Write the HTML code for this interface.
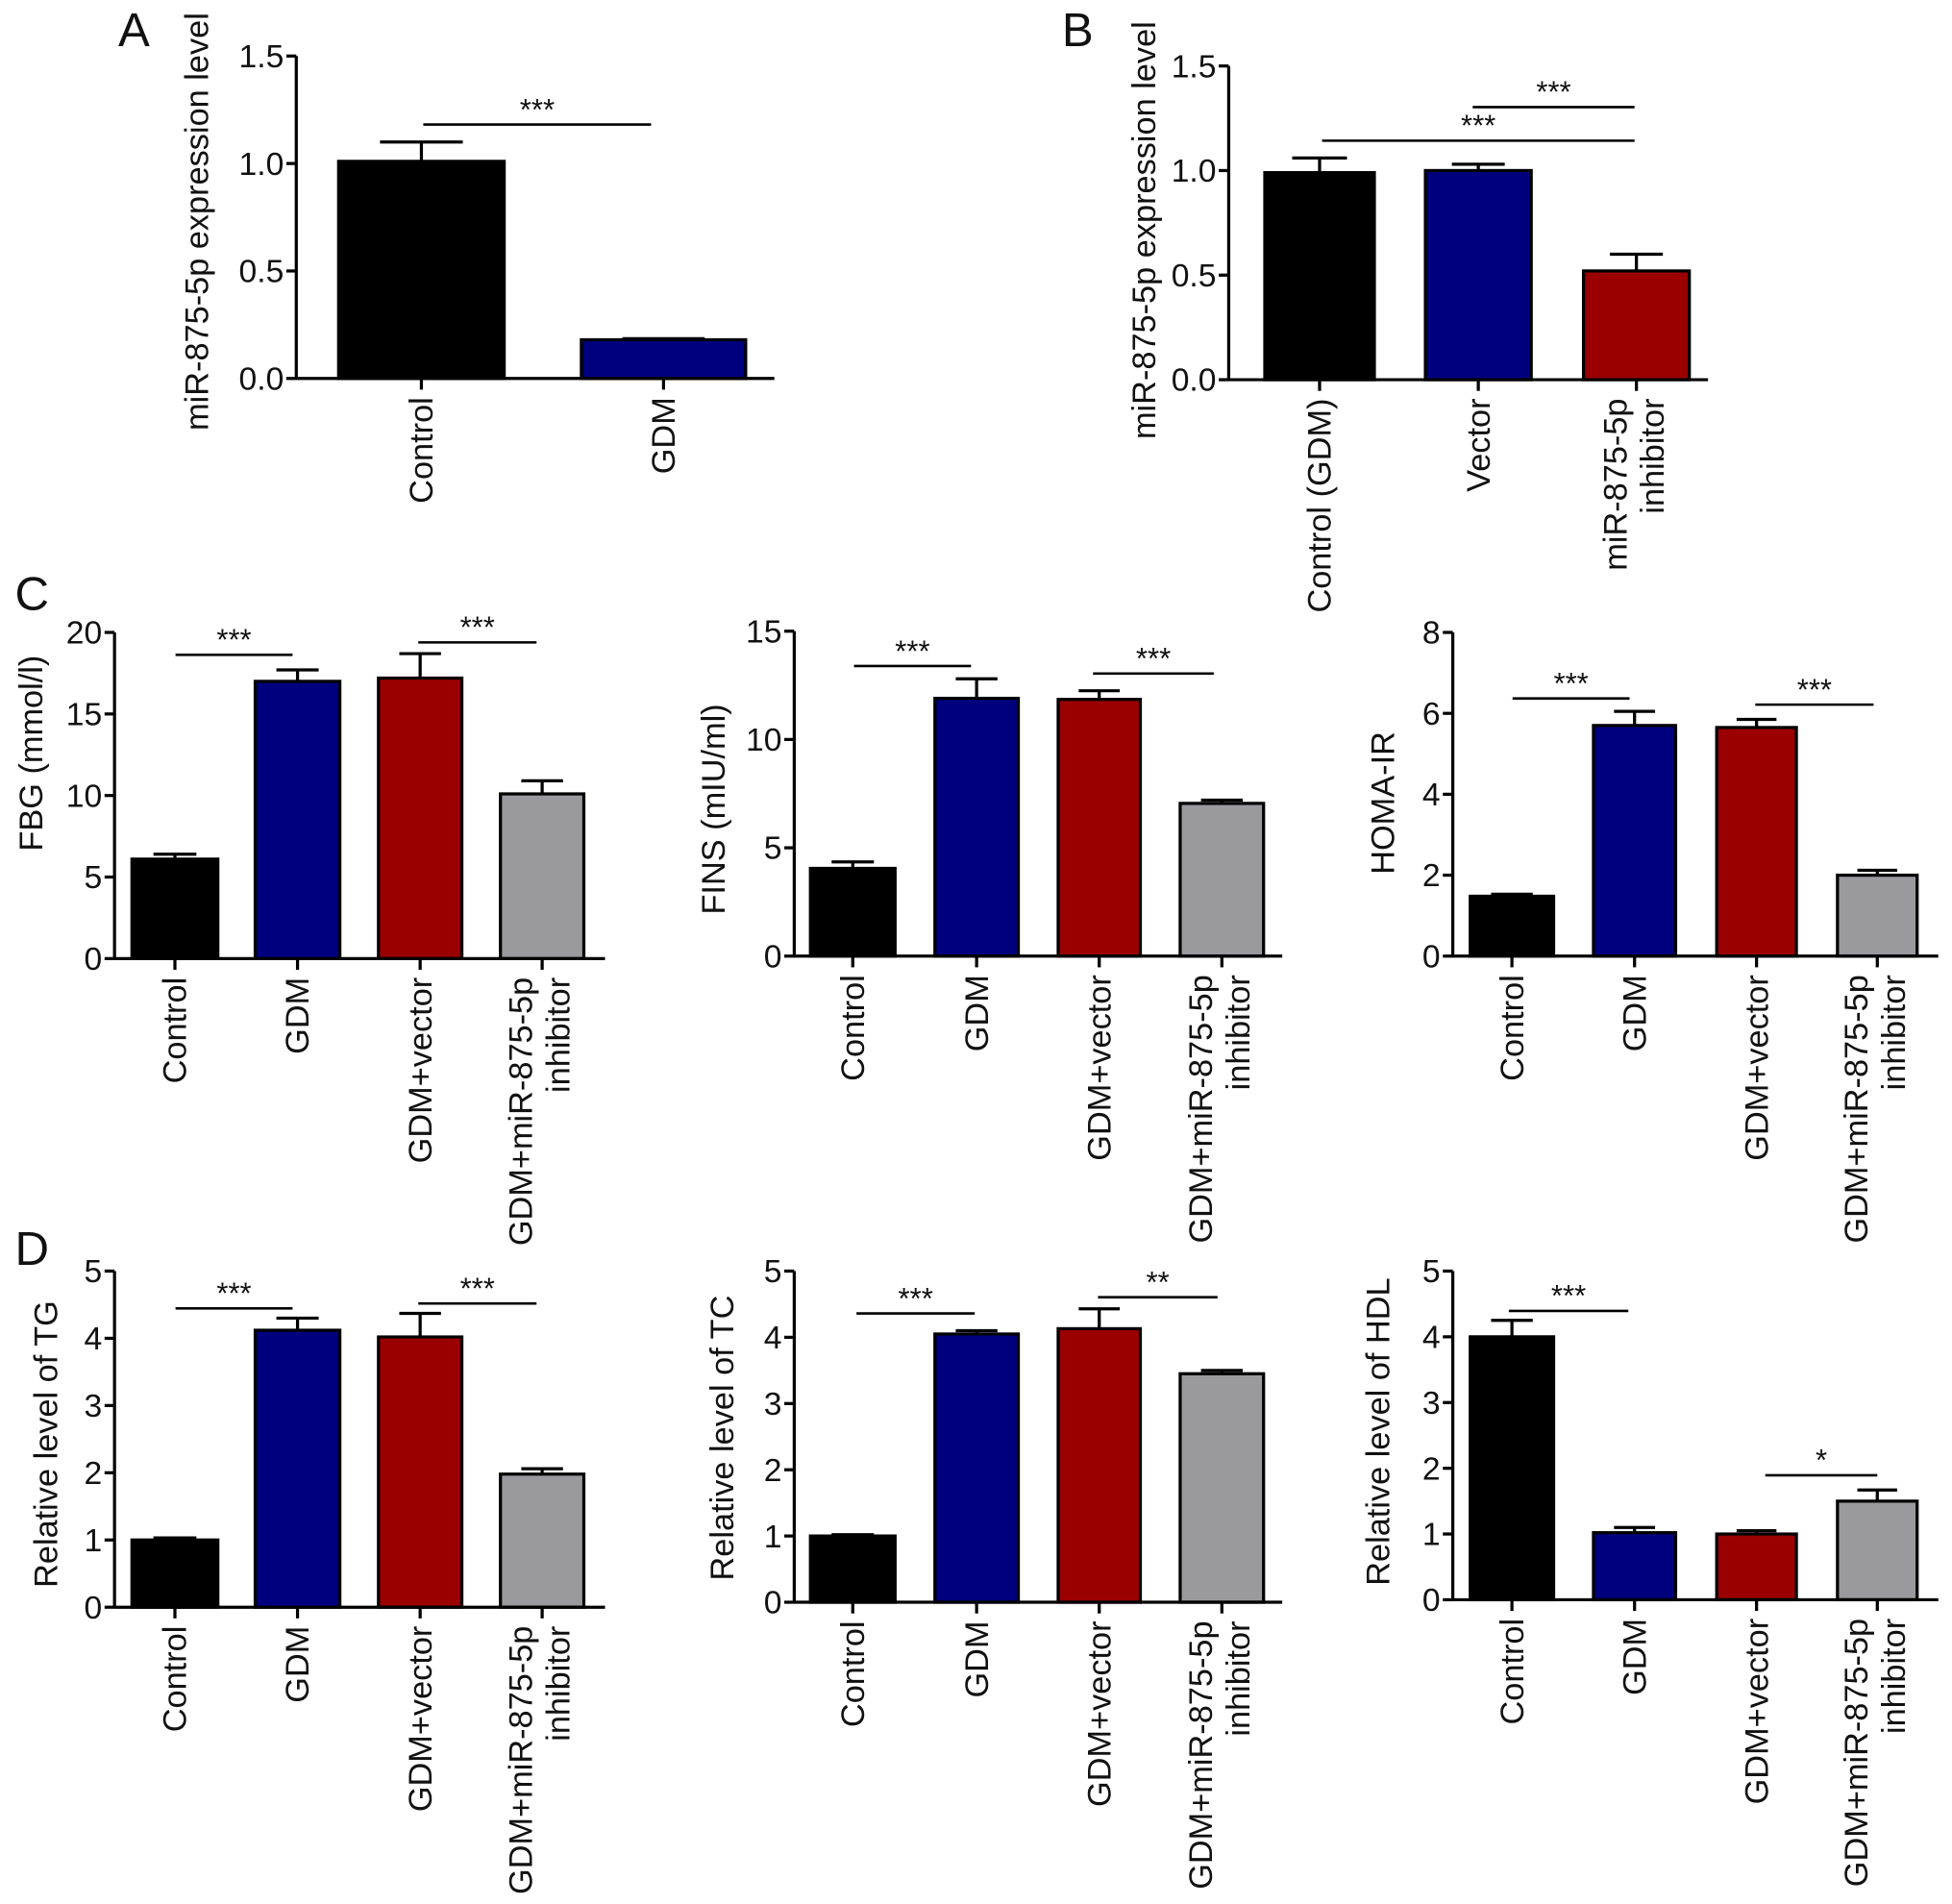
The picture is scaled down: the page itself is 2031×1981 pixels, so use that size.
<!DOCTYPE html>
<html><head><meta charset="utf-8"><style>
html,body{margin:0;padding:0;background:#fff}
svg{display:block}
text{font-family:"Liberation Sans",Arial,sans-serif;fill:#111}
</style></head><body>
<svg id="fig" width="2031" height="1981" viewBox="0 0 1568 1529.4" xmlns="http://www.w3.org/2000/svg"></svg>
<script>
// Panel A
const aCats=[["Control"],["GDM"]];
const aVals=[1.01,0.18];
const aErrs=[0.09,0.005];
const aTicks=[0,0.5,1.0,1.5];
// Panel B
const bCats=[["Control (GDM)"],["Vector"],["miR-875-5p","inhibitor"]];
const bVals=[0.99,1.0,0.52];
const bErrs=[0.07,0.03,0.08];
const bTicks=[0,0.5,1.0,1.5];
// Shared C/D categories
const cdCats=[["Control"],["GDM"],["GDM+vector"],["GDM+miR-875-5p","inhibitor"]];
const fbgVals=[6.1,17.0,17.2,10.1];
const fbgErrs=[0.3,0.7,1.5,0.8];
const fbgTicks=[0,5,10,15,20];
const finsVals=[4.05,11.9,11.85,7.05];
const finsErrs=[0.3,0.9,0.4,0.15];
const finsTicks=[0,5,10,15];
const homaVals=[1.48,5.7,5.65,2.0];
const homaErrs=[0.05,0.35,0.2,0.12];
const homaTicks=[0,2,4,6,8];
const tgVals=[1.0,4.12,4.02,1.98];
const tgErrs=[0.03,0.18,0.35,0.08];
const tcVals=[1.0,4.05,4.13,3.45];
const tcErrs=[0.02,0.05,0.3,0.05];
const hdlVals=[4.0,1.02,1.0,1.5];
const hdlErrs=[0.25,0.08,0.05,0.17];
const dTicks=[0,1,2,3,4,5];

const colors4=["#000000","#00007f","#9b0000","#9a9a9e"];
const NS="http://www.w3.org/2000/svg";
const svg=document.getElementById('fig');
function mk(tag,attrs,parent){const e=document.createElementNS(NS,tag);for(const k in attrs)e.setAttribute(k,attrs[k]);(parent||svg).appendChild(e);return e;}

function panel(o){
  const g=mk('g',{});
  
  
  const ymax=o.ticks[o.ticks.length-1];
  const Y=v=>o.y0-(v/ymax)*(o.y0-o.ytop);
  o.vals.forEach((v,i)=>{
    const x1=o.bars[i][0],x2=o.bars[i][1],cx=(x1+x2)/2,w=x2-x1;
    const top=Y(v), et=Y(v+o.errs[i]);
    const el=mk('line',{x1:cx,x2:cx,y1:top,y2:et,stroke:'#000','stroke-width':2.5},g);
    
    
    const cap=mk('line',{x1:cx-w*0.25,x2:cx+w*0.25,y1:et,y2:et,stroke:'#000','stroke-width':2.5},g);
    
    
    const r=mk('rect',{x:x1,y:top,width:w,height:o.y0-top,fill:o.colors[i],stroke:'#000','stroke-width':2.5},g);
    
    
    mk('line',{x1:cx,x2:cx,y1:o.y0,y2:o.y0+9,stroke:'#000','stroke-width':2.5},g);
    const lines=o.cats[i];
    lines.forEach((ln,j)=>{
      const off=lines.length===1?9:(j===0?-8:22);
      const t=mk('text',{transform:`translate(${cx+off},${o.y0+15}) rotate(-90)`,'text-anchor':'end','font-size':26.5},g);
      t.textContent=ln;
      
      
    });
  });
  const ya=mk('line',{x1:o.ax,x2:o.ax,y1:o.ytop,y2:o.y0+1,stroke:'#000','stroke-width':2.5},g);
  
  
  const xa=mk('line',{x1:o.ax,x2:o.xend,y1:o.y0,y2:o.y0,stroke:'#000','stroke-width':2.5},g);
  
  
  o.ticks.forEach(t=>{
    const y=Y(t);
    mk('line',{x1:o.ax-8,x2:o.ax,y1:y,y2:y,stroke:'#000','stroke-width':2.5},g);
    const tx=mk('text',{x:o.ax-10,y:y+9,'text-anchor':'end','font-size':26},g);
    tx.textContent=o.fmt?t.toFixed(1):String(t);
    
    
  });
  const yt=mk('text',{transform:`translate(${o.tx},${o.ty}) rotate(-90)`,'text-anchor':'middle','font-size':26.5},g);
  yt.textContent=o.title;
  
  
  (o.sig||[]).forEach(s=>{
    mk('line',{x1:s[0],x2:s[1],y1:s[2],y2:s[2],stroke:'#000','stroke-width':2},g);
    const st=mk('text',{x:(s[0]+s[1])/2,y:s[2]-4,'text-anchor':'middle','font-size':24},g);
    st.textContent=s[3];
    
    
  });
}
function letter(t,x,y){const e=mk('text',{x:x,y:y,'font-size':38});e.textContent=t;
  
  }

const c4=[[106,175],[205,273],[304,371],[402,469]];
const c4b=[[651,719],[751,818],[850,916],[948,1015]];
const c4c=[[1181,1248],[1280,1346],[1379,1443],[1476,1540]];

panel({name:'panel-a',cats:aCats,vals:aVals,errs:aErrs,ticks:aTicks,fmt:true,colors:["#000","#00007f"],
  bars:[[272,405],[467,599]],ax:238,xend:622,y0:304,ytop:45,title:'miR-875-5p expression level',tx:167,ty:178,
  sig:[[340,523,100,'***']]});
panel({name:'panel-b',cats:bCats,vals:bVals,errs:bErrs,ticks:bTicks,fmt:true,colors:["#000","#00007f","#9b0000"],
  bars:[[1016,1104],[1145,1230],[1272,1357]],ax:987,xend:1372,y0:305,ytop:53,title:'miR-875-5p expression level',tx:928,ty:185,
  sig:[[1062,1313,113,'***'],[1183,1313,86,'***']]});
panel({name:'panel-c-fbg',cats:cdCats,vals:fbgVals,errs:fbgErrs,ticks:fbgTicks,colors:colors4,bars:c4,ax:92,xend:486,y0:770,ytop:508,
  title:'FBG  (mmol/l)',tx:34,ty:605,sig:[[141,235,526,'***'],[336,431,516,'***']]});
panel({name:'panel-c-fins',cats:cdCats,vals:finsVals,errs:finsErrs,ticks:finsTicks,colors:colors4,bars:c4b,ax:638,xend:1030,y0:768,ytop:507,
  title:'FINS (mIU/ml)',tx:582,ty:650,sig:[[686,780,535,'***'],[878,975,541,'***']]});
panel({name:'panel-c-homa',cats:cdCats,vals:homaVals,errs:homaErrs,ticks:homaTicks,colors:colors4,bars:c4c,ax:1167,xend:1557,y0:768,ytop:508,
  title:'HOMA-IR',tx:1120,ty:645,sig:[[1215,1309,561,'***'],[1410,1505,566,'***']]});
panel({name:'panel-d-tg',cats:cdCats,vals:tgVals,errs:tgErrs,ticks:dTicks,colors:colors4,bars:c4,ax:92,xend:486,y0:1291,ytop:1021,
  title:'Relative level of TG',tx:46,ty:1160,sig:[[141,235,1051,'***'],[336,431,1047,'***']]});
panel({name:'panel-d-tc',cats:cdCats,vals:tcVals,errs:tcErrs,ticks:dTicks,colors:colors4,bars:c4b,ax:638,xend:1030,y0:1287,ytop:1021,
  title:'Relative level of TC',tx:589,ty:1155,sig:[[688,783,1055,'***'],[882,978,1042,'**']]});
panel({name:'panel-d-hdl',cats:cdCats,vals:hdlVals,errs:hdlErrs,ticks:dTicks,colors:colors4,bars:c4c,ax:1167,xend:1557,y0:1285,ytop:1021,
  title:'Relative level of HDL',tx:1116,ty:1150,sig:[[1212,1308,1053,'***'],[1418,1508,1185,'*']]});

letter('A',95,37);letter('B',853,37);letter('C',12,490);letter('D',12,1016);
</script>
</body></html>
